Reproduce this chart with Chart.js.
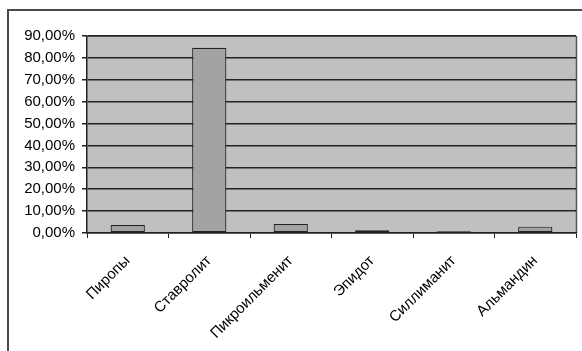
<!DOCTYPE html>
<html>
<head>
<meta charset="utf-8">
<script src="https://cdn.jsdelivr.net/npm/chart.js@4/dist/chart.umd.min.js"></script>
<style>
html,body{margin:0;padding:0;background:#fff;}
#wrap{width:582px;height:351px;position:relative;}
</style>
</head>
<body>
<div id="wrap"><canvas id="c" width="582" height="351"></canvas></div>
<script>
const categories = ["Пиропы", "Ставролит", "Пикроильменит", "Эпидот", "Силлиманит", "Альмандин"];
const shares = [3.6, 84.6, 4.1, 1.2, 0.8, 2.9];
const barColors = ["#a3a3a3", "#a3a3a3", "#a3a3a3", "#a3a3a3", "#111111", "#a3a3a3"];

const framePlugin = {
  id: 'frame',
  beforeDraw(chart) {
    const ctx = chart.ctx, a = chart.chartArea;
    ctx.save();
    ctx.fillStyle = '#fff';
    ctx.fillRect(0, 0, chart.width, chart.height);
    ctx.strokeStyle = '#4a4a4a';
    ctx.lineWidth = 2;
    ctx.beginPath();
    ctx.moveTo(8, chart.height);
    ctx.lineTo(8, 10);
    ctx.lineTo(chart.width, 10);
    ctx.stroke();
    ctx.fillStyle = '#c0c0c0';
    ctx.fillRect(a.left, a.top, a.right - a.left, a.bottom - a.top);
    ctx.strokeStyle = '#808080';
    ctx.lineWidth = 1;
    ctx.beginPath();
    ctx.moveTo(a.left, a.top + 0.5);
    ctx.lineTo(a.right, a.top + 0.5);
    ctx.stroke();
    ctx.strokeStyle = '#555';
    ctx.lineWidth = 1.5;
    ctx.beginPath();
    ctx.moveTo(a.right + 0.5, a.top);
    ctx.lineTo(a.right + 0.5, a.bottom);
    ctx.stroke();
    ctx.restore();
  }
};

new Chart(document.getElementById('c'), {
  type: 'bar',
  data: {
    labels: categories,
    datasets: [{
      data: shares,
      backgroundColor: barColors,
      borderColor: '#222',
      borderWidth: 1.2,
      borderSkipped: false,
      barPercentage: 0.42,
      categoryPercentage: 1.0
    }]
  },
  options: {
    responsive: false,
    animation: false,
    devicePixelRatio: 1,
    layout: { padding: { left: 6, top: 36, right: 6, bottom: 0 } },
    plugins: { legend: { display: false }, tooltip: { enabled: false } },
    scales: {
      x: {
        afterFit(s) { s.height = 118; },
        grid: { drawOnChartArea: false, drawTicks: true, tickLength: 5, color: '#222', offset: true, z: -1 },
        border: { display: true, color: '#222', width: 1.5, z: -1 },
        ticks: {
          color: '#000',
          font: { family: "'Liberation Sans', Arial, sans-serif", size: 15 },
          maxRotation: 45, minRotation: 45,
          autoSkip: false,
          padding: 14
        }
      },
      y: {
        min: 0, max: 90,
        afterFit(s) { s.width = 81; },
        grid: { color: '#222', lineWidth: 1.5, drawTicks: true, tickLength: 5 },
        border: { display: true, color: '#222', width: 1.5 },
        ticks: {
          stepSize: 10,
          color: '#000',
          font: { family: "'Liberation Sans', Arial, sans-serif", size: 15 },
          padding: 7,
          callback: v => v.toFixed(2).replace('.', ',') + '%'
        }
      }
    }
  },
  plugins: [framePlugin]
});
</script>
</body>
</html>
